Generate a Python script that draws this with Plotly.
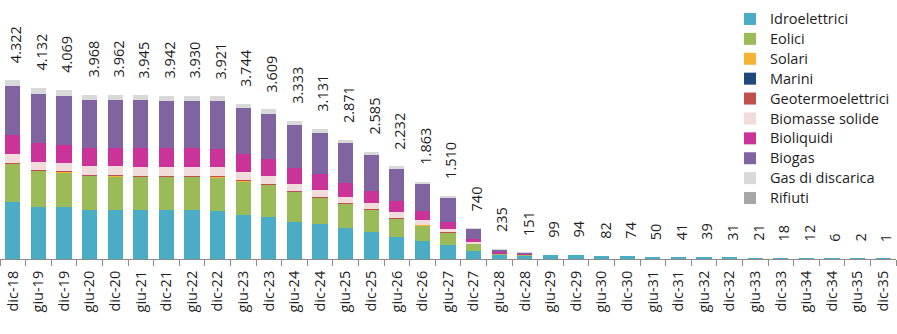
import plotly.graph_objects as go

periods = ["dic-18", "giu-19", "dic-19", "giu-20", "dic-20", "giu-21", "dic-21", "giu-22",
           "dic-22", "giu-23", "dic-23", "giu-24", "dic-24", "giu-25", "dic-25", "giu-26",
           "dic-26", "giu-27", "dic-27", "giu-28", "dic-28", "giu-29", "dic-29", "giu-30",
           "dic-30", "giu-31", "dic-31", "giu-32", "dic-32", "giu-33", "dic-33", "giu-34",
           "dic-34", "giu-35", "dic-35"]

totali = [4322, 4132, 4069, 3968, 3962, 3945, 3942, 3930, 3921, 3744, 3609, 3333, 3131,
          2871, 2585, 2232, 1863, 1510, 740, 235, 151, 99, 94, 82, 74, 50, 41, 39, 31,
          21, 18, 12, 6, 2, 1]

idroelettrici = [1384, 1262, 1245, 1190, 1185, 1183, 1183, 1175, 1170, 1062, 1020, 900, 837,
                 741, 662, 528, 445, 342, 200, 100, 92, 99, 94, 82, 74, 50, 41, 39, 31,
                 21, 18, 12, 6, 2, 1]
eolici = [915, 865, 850, 820, 815, 808, 808, 810, 808, 815, 770, 725, 655,
          595, 535, 455, 375, 298, 165, 30, 8] + [0] * 14
solari = [5, 5, 5, 5, 5, 5, 5, 5, 5, 5, 4, 4, 3, 3, 3, 2, 2, 2, 1] + [0] * 16
marini = [0] * 35
geotermoelettrici = [15, 15, 15, 18, 18, 18, 18, 18, 18, 18, 15, 12, 10, 8, 6, 5, 4, 3, 2] + [0] * 16
biomasse_solide = [210, 190, 193, 200, 210, 215, 215, 215, 210, 193, 193, 169, 169,
                   152, 145, 135, 104, 85, 45, 10, 6] + [0] * 14
bioliquidi = [460, 466, 441, 441, 441, 444, 444, 444, 447, 443, 410, 393, 371,
              338, 297, 265, 217, 172, 65, 25, 15] + [0] * 14
biogas = [1188, 1179, 1175, 1166, 1168, 1151, 1148, 1145, 1145, 1095, 1084, 1034, 997,
          962, 872, 777, 651, 558, 250, 62, 25] + [0] * 14
gas_discarica = [145, 150, 145, 128, 120, 121, 121, 118, 118, 113, 113, 96, 89,
                 72, 65, 65, 65, 50, 12, 8, 5] + [0] * 14
rifiuti = [0] * 35

serie = [
    ("Idroelettrici", idroelettrici, "#4BACC6"),
    ("Eolici", eolici, "#9BBB59"),
    ("Solari", solari, "#F5B335"),
    ("Marini", marini, "#1F497D"),
    ("Geotermoelettrici", geotermoelettrici, "#C0504D"),
    ("Biomasse solide", biomasse_solide, "#F2DCDB"),
    ("Bioliquidi", bioliquidi, "#CC3399"),
    ("Biogas", biogas, "#8064A2"),
    ("Gas di discarica", gas_discarica, "#D9D9D9"),
    ("Rifiuti", rifiuti, "#A6A6A6"),
]

FONT = "Open Sans"
TXT = "#1e1e1e"

fig = go.Figure()
for nome, valori, colore in serie:
    fig.add_trace(go.Bar(
        x=periods, y=valori,
        # legend rows are spaced by the legend font size; the entry text is drawn larger
        name=f'<span style="font-size:14.5px">{nome}</span>',
        marker=dict(color=colore, line=dict(width=0)),
        hoverinfo="skip",
    ))

# total labels above each stacked column, Italian thousands separator
for p, t in zip(periods, totali):
    fig.add_annotation(
        x=p, y=t, xref="x", yref="y",
        text=f"{t:,}".replace(",", "."),
        textangle=-90, showarrow=False,
        xanchor="center", yanchor="bottom", xshift=3, yshift=15,
        font=dict(family=FONT, size=14.5, color=TXT),
    )

fig.update_layout(
    width=897, height=334,
    barmode="stack", bargap=0.41,
    plot_bgcolor="white", paper_bgcolor="white",
    margin=dict(l=0, r=1, t=0, b=75, autoexpand=False),
    font=dict(family=FONT, size=14.5, color=TXT),
    showlegend=True,
    legend=dict(
        traceorder="normal",
        xref="container", yref="container",
        x=730 / 897, y=1 - 4 / 334, xanchor="left", yanchor="top",
        font=dict(family=FONT, size=13, color=TXT),
        bgcolor="rgba(0,0,0,0)",
        tracegroupgap=0,
        maxheight=330,
    ),
    xaxis=dict(
        type="category",
        range=[-0.5, 34.5],
        tickangle=-90,
        showline=True, linecolor="#8c8c8c", linewidth=1,
        ticks="outside", tickson="boundaries", ticklen=6, tickcolor="#8c8c8c",
        ticklabelstandoff=5,
        showgrid=False, zeroline=False,
        tickfont=dict(family=FONT, size=14.5, color=TXT),
    ),
    yaxis=dict(
        range=[0, 6248], visible=False, showgrid=False, zeroline=False,
    ),
)

fig.write_html("out.html")
